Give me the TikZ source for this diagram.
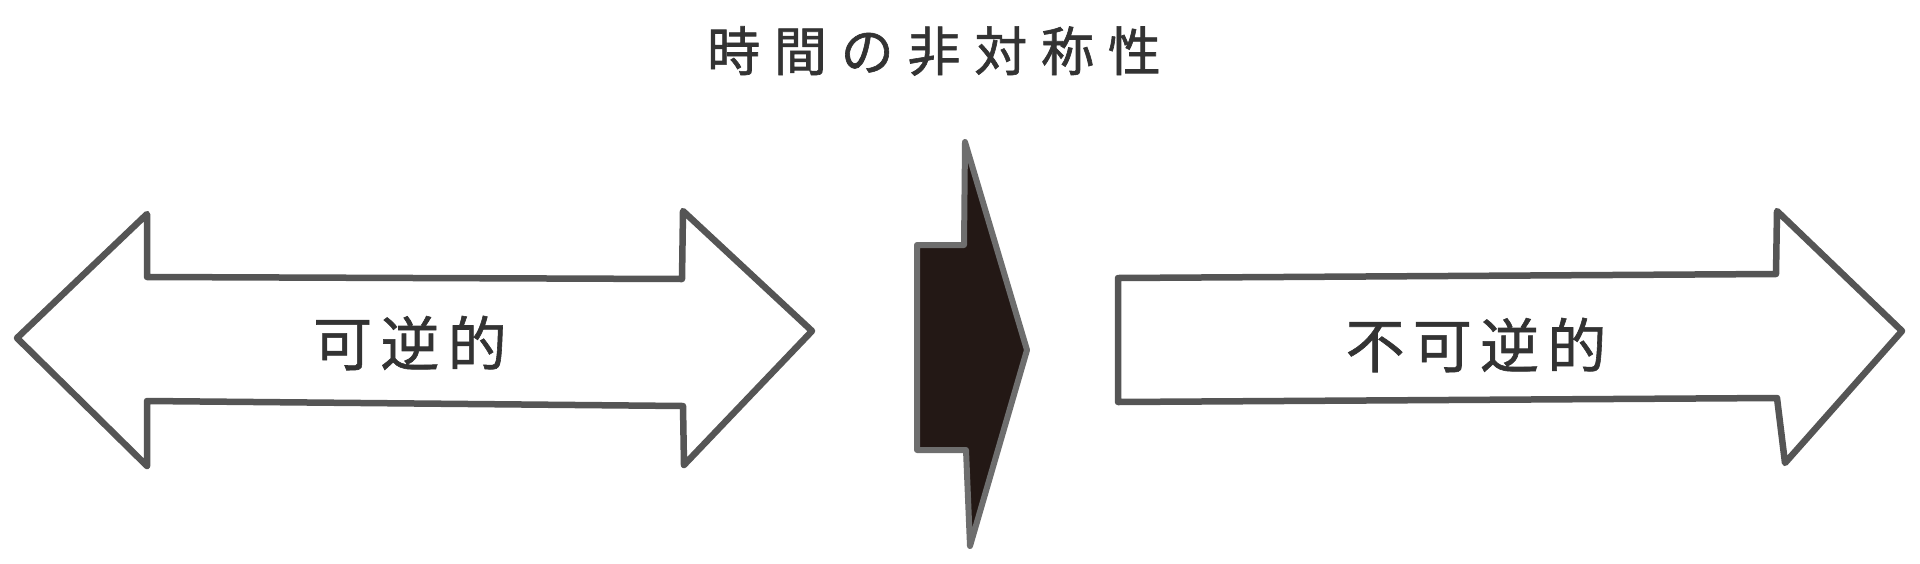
\documentclass[tikz,border=0pt]{standalone}
\usepackage{fontspec}
\newfontfamily\jptitle[LetterSpace=26,FakeBold=1.2]{Noto Sans CJK JP}
\newfontfamily\jplabel[LetterSpace=14,FakeBold=1.0]{Noto Sans CJK JP}
\definecolor{ink}{HTML}{333333}
\definecolor{edge}{HTML}{555555}
\definecolor{darkfill}{HTML}{231815}
\tikzset{
  outline/.style={draw=edge, line width=6.5pt, line join=round, fill=white},
  solidarrow/.style={draw=edge!85, line width=6pt, line join=round, fill=darkfill},
  titletext/.style={text=ink, font=\jptitle\fontsize{53}{56}\selectfont, inner sep=0pt},
  labeltext/.style={text=ink, font=\jplabel\fontsize{59}{62}\selectfont, inner sep=0pt}
}
\begin{document}
\begin{tikzpicture}[x=1pt,y=-1pt]
\useasboundingbox (0,0) rectangle (1920,563);
% left double arrow
\draw[outline] (17,338) -- (147,214) -- (147,277) -- (682,279) -- (683,211)
  -- (812,331) -- (684,465) -- (683,406) -- (147,401) -- (147,466) -- cycle;
% central black arrow
\draw[solidarrow] (965,142) -- (964,245) -- (917,245) -- (917,450) -- (966,450)
  -- (970,546) -- (1027,350) -- cycle;
% right arrow
\draw[outline] (1118,278) -- (1776,274) -- (1777,211) -- (1902,331) -- (1785,463)
  -- (1777,398) -- (1118,402) -- cycle;
% texts
\node[titletext] (title) at (934,51) {時間の非対称性};
\node[labeltext] (rev) at (410,343) {可逆的};
\node[labeltext] (irrev) at (1476,345) {不可逆的};
\end{tikzpicture}
\end{document}
